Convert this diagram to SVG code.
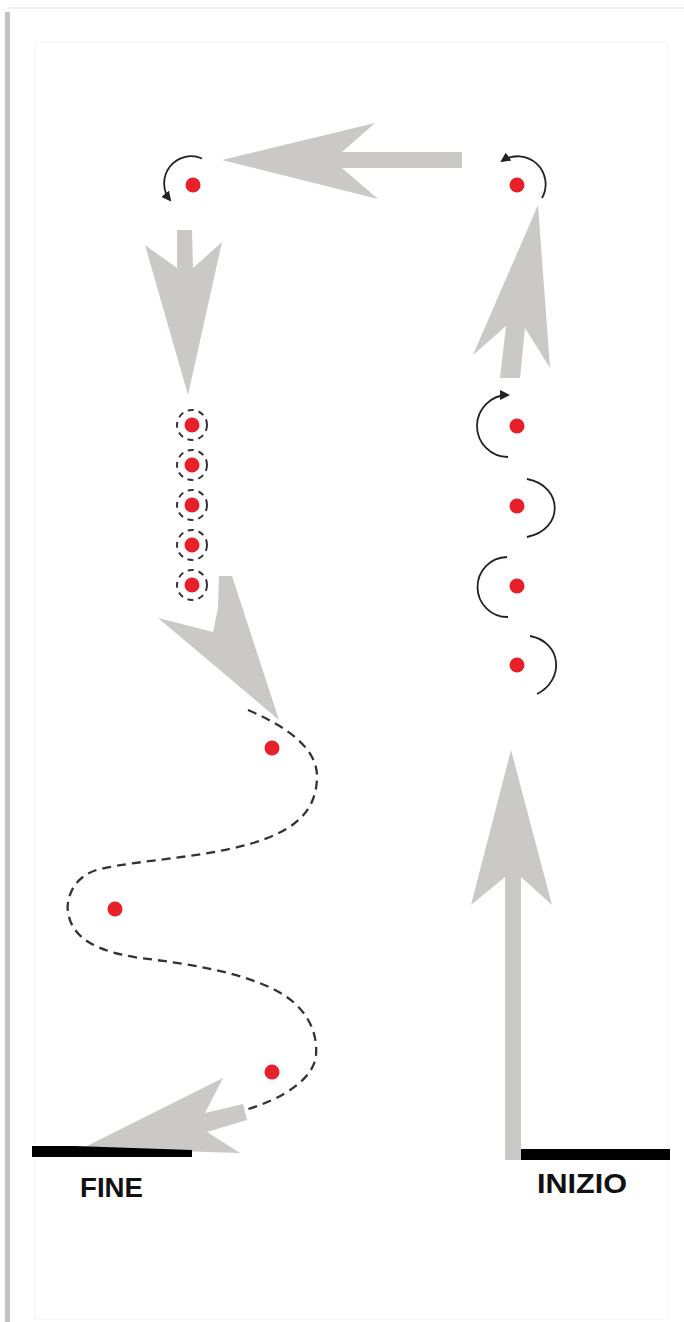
<svg xmlns="http://www.w3.org/2000/svg" width="684" height="1322" viewBox="0 0 684 1322">
  <style>
    .arrow { fill: #cbc8c8; stroke: none; }
    .dot { fill: #e8202a; }
    .ring { fill: none; stroke: #333; stroke-width: 2; stroke-dasharray: 6 5; }
    .turn { fill: none; stroke: #222; stroke-width: 1.8; }
    .path { fill: none; stroke: #333; stroke-width: 2.3; stroke-dasharray: 9 6; }
    .bar { fill: #000; }
    .label { font-family: "Liberation Sans", Arial, sans-serif; font-weight: bold; font-size: 27px; fill: #111; }
  </style>
  <defs>
    <marker id="head" viewBox="0 0 10 10" refX="8" refY="5" markerWidth="5.5" markerHeight="5.5" orient="auto" markerUnits="strokeWidth">
      <path d="M0,0 L10,5 L0,10 z" fill="#222"/>
    </marker>
  </defs>

  <!-- frame -->
  <g id="frame">
    <rect x="0" y="0" width="684" height="1322" fill="#ffffff"/>
    <line x1="8" y1="8" x2="684" y2="8" stroke="#efefef" stroke-width="2"/>
    <rect x="5" y="12" width="5" height="1310" fill="#c4c4c4"/>
    <rect x="35" y="42" width="633" height="1277" fill="none" stroke="#f3f3f3" stroke-width="1"/>
  </g>

  <!-- connectors -->
  <g id="connectors">
    <polygon class="arrow" points="505,1160 521,1160 521,877 552,905 511,750 471,905 505,877"/>
    <polygon class="arrow" points="500,378 520,378 525,328 550,368 538,205 473,355 506,326"/>
    <polygon class="arrow" points="462,152 462,168 342,168 378,199 222,160 375,123 342,152"/>
    <polygon class="arrow" points="177,230 192,230 193,268 222,242 188,395 145,245 177,268"/>
    <polygon class="arrow" points="219,576 232,576 279,720 158,618 213,632 218,608"/>
    <polygon class="arrow" points="243,1104 247,1120 207,1132 240,1153 83,1148 223,1078 205,1113"/>

    <path class="path" d="M248,710 C290,728 318,750 317,778 C316,815 290,832 250,844 C200,858 140,860 100,869 C72,876 66,900 68,912 C72,940 100,952 140,958 C190,964 240,972 275,990 C305,1005 318,1030 316,1055 C314,1080 280,1100 245,1110"/>

    <path class="turn" marker-end="url(#head)" d="M202,158.5 A27,27 0 0 0 170,200"/>
    <path class="turn" marker-end="url(#head)" d="M542,198 A28,28 0 0 0 502,161"/>
    <path class="turn" marker-end="url(#head)" d="M508,457 A31,31 0 0 1 508,395"/>
    <path class="turn" d="M527,479 C564,486 564,530 527,537"/>
    <path class="turn" d="M507,557 A30,30 0 0 0 508,617"/>
    <path class="turn" d="M530,636 C562,642 565,680 537,694"/>

    <rect class="bar" x="521" y="1149" width="149" height="11"/>
    <polygon class="bar" points="32,1146 75,1146 192,1150 192,1157 32,1157"/>
  </g>

  <!-- nodes -->
  <g id="node-top-left"><circle class="dot" cx="193" cy="185" r="7.5"/></g>
  <g id="node-top-right"><circle class="dot" cx="517" cy="185" r="7.5"/></g>

  <g id="node-r1"><circle class="dot" cx="517" cy="426" r="7.5"/></g>
  <g id="node-r2"><circle class="dot" cx="517" cy="506" r="7.5"/></g>
  <g id="node-r3"><circle class="dot" cx="517" cy="586" r="7.5"/></g>
  <g id="node-r4"><circle class="dot" cx="517" cy="665" r="7.5"/></g>

  <g id="node-l1"><circle class="ring" cx="192" cy="425" r="15"/><circle class="dot" cx="192" cy="425" r="7.5"/></g>
  <g id="node-l2"><circle class="ring" cx="192" cy="465" r="15"/><circle class="dot" cx="192" cy="465" r="7.5"/></g>
  <g id="node-l3"><circle class="ring" cx="192" cy="505" r="15"/><circle class="dot" cx="192" cy="505" r="7.5"/></g>
  <g id="node-l4"><circle class="ring" cx="192" cy="545" r="15"/><circle class="dot" cx="192" cy="545" r="7.5"/></g>
  <g id="node-l5"><circle class="ring" cx="192" cy="585" r="15"/><circle class="dot" cx="192" cy="585" r="7.5"/></g>

  <g id="node-s1"><circle class="dot" cx="272" cy="748" r="7.5"/></g>
  <g id="node-s2"><circle class="dot" cx="115" cy="909" r="7.5"/></g>
  <g id="node-s3"><circle class="dot" cx="272" cy="1072" r="7.5"/></g>

  <g id="label-fine"><text class="label" x="80" y="1197" textLength="63" lengthAdjust="spacingAndGlyphs">FINE</text></g>
  <g id="label-inizio"><text class="label" x="537" y="1193" textLength="90" lengthAdjust="spacingAndGlyphs">INIZIO</text></g>
</svg>
